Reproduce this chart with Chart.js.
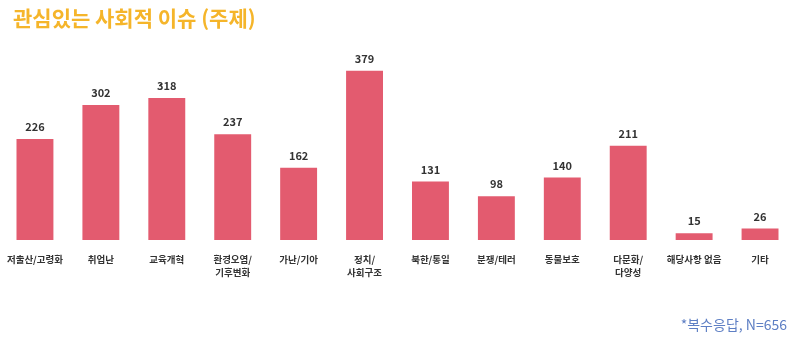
<!DOCTYPE html>
<html>
<head>
<meta charset="utf-8">
<script src="https://cdn.jsdelivr.net/npm/chart.js@4"></script>
<style>
  html, body { margin: 0; padding: 0; background: #fff; }
  #wrap { position: relative; width: 794px; height: 343px; overflow: hidden; }
  #title { position: absolute; left: 13px; top: 2px; font-family: "Noto Sans CJK KR"; font-weight: 700;
           font-size: 21px; color: #F5B52A; white-space: nowrap; }
  #note { position: absolute; right: 7px; top: 314px; font-family: "Noto Sans CJK KR"; font-size: 14px;
          color: #5E7FC4; white-space: nowrap; }
  canvas { position: absolute; left: 0; top: 0; }
</style>
</head>
<body>
<div id="wrap">
  <canvas id="c" width="794" height="343"></canvas>
  <div id="title">관심있는 사회적 이슈 (주제)</div>
  <div id="note">*복수응답, N=656</div>
</div>
<script>
// 데이터
const categories = [
  "저출산/고령화", "취업난", "교육개혁", ["환경오염/", "기후변화"], "가난/기아", ["정치/", "사회구조"],
  "북한/통일", "분쟁/테러", "동물보호", ["다문화/", "다양성"], "해당사항 없음", "기타"
];
const counts = [226, 302, 318, 237, 162, 379, 131, 98, 140, 211, 15, 26];

// 막대 위 숫자 + 아래 항목명
const barText = {
  id: "barText",
  afterDatasetsDraw(chart) {
    const ctx = chart.ctx;
    const meta = chart.getDatasetMeta(0);
    const base = chart.chartArea.bottom;
    ctx.save();
    ctx.fillStyle = "#333";
    ctx.textAlign = "center";
    ctx.textBaseline = "middle";
    meta.data.forEach((bar, i) => {
      ctx.font = "bold 11px 'Noto Sans CJK KR'";
      ctx.fillText(counts[i], bar.x, bar.y - 12);
      ctx.font = "bold 9.5px 'Noto Sans CJK KR'";
      const lines = [].concat(categories[i]);
      lines.forEach((t, j) => ctx.fillText(t, bar.x, base + 19 + j * 13));
    });
    ctx.restore();
  }
};

new Chart(document.getElementById("c"), {
  type: "bar",
  data: {
    labels: categories,
    datasets: [{
      data: counts,
      backgroundColor: "#E35B6F",
      barPercentage: 0.56,
      categoryPercentage: 1
    }]
  },
  options: {
    responsive: false,
    animation: false,
    layout: { padding: { left: 2, right: 1, top: 39, bottom: 103 } },
    plugins: { legend: { display: false }, tooltip: { enabled: false } },
    scales: {
      x: { display: false },
      y: { display: false, min: 0, max: 450 }
    }
  },
  plugins: [barText]
});
</script>
</body>
</html>
